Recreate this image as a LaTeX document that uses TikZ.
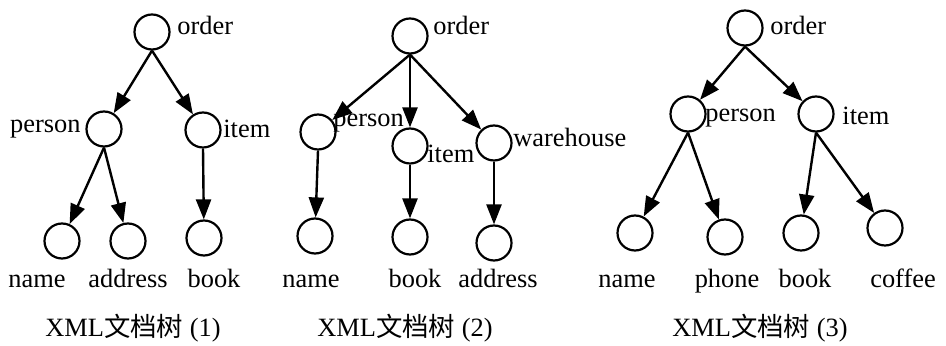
\documentclass[tikz,border=0pt]{standalone}
\usepackage{fontspec}
\setmainfont{Liberation Serif}
\newfontfamily\cjk{Noto Sans CJK SC}
\usetikzlibrary{arrows.meta}
\tikzset{
  elem/.style={circle, draw, line width=1.1pt, minimum size=17.5pt, inner sep=0pt},
  tag/.style={inner sep=0pt, font=\fontsize{13.2}{16}\selectfont},
  edge/.style={line width=1.2pt, -{Triangle[length=10pt,width=7.5pt]}},
}
\begin{document}
\begin{tikzpicture}[x=0.5pt, y=-0.5pt]
\useasboundingbox (0,0) rectangle (946,346);
% tree 1
\node[elem] (o1) at (152,32) {};
\node[elem] (p1) at (104,129) {};
\node[elem] (i1) at (203,130) {};
\node[elem] (n1) at (62,241) {};
\node[elem] (a1) at (128,241) {};
\node[elem] (b1) at (204,238) {};
\node[tag, anchor=base west] (o1t) at (177,35) {order};
\node[tag, anchor=base east] (p1t) at (81,133) {person};
\node[tag, anchor=base west] (i1t) at (223,138) {item};
\node[tag, anchor=base] (n1t) at (37,288) {name};
\node[tag, anchor=base] (a1t) at (128,288) {address};
\node[tag, anchor=base] (b1t) at (214,288) {book};
\node[tag, anchor=base] (c1) at (133,337) {XML{\cjk 文档树} (1)};
% tree 2
\node[elem] (o2) at (410,36) {};
\node[elem] (p2) at (318,132) {};
\node[elem] (i2) at (410,146) {};
\node[elem] (w2) at (494,143) {};
\node[elem] (n2) at (315,236) {};
\node[elem] (b2) at (410,237) {};
\node[elem] (a2) at (494,243) {};
\node[tag, anchor=base west] (o2t) at (433,35) {order};
\node[tag, anchor=base west] (p2t) at (333,127) {person};
\node[tag, anchor=base west] (i2t) at (427,163) {item};
\node[tag, anchor=base west] (w2t) at (513,147) {warehouse};
\node[tag, anchor=base] (n2t) at (311,288) {name};
\node[tag, anchor=base] (b2t) at (415,288) {book};
\node[tag, anchor=base] (a2t) at (498,288) {address};
\node[tag, anchor=base] (c2) at (405,337) {XML{\cjk 文档树} (2)};
% tree 3
\node[elem] (o3) at (745,28) {};
\node[elem] (p3) at (688,114) {};
\node[elem] (i3) at (816,114) {};
\node[elem] (n3) at (635,233) {};
\node[elem] (h3) at (725,237) {};
\node[elem] (b3) at (801,233) {};
\node[elem] (f3) at (885,228) {};
\node[tag, anchor=base west] (o3t) at (770,35) {order};
\node[tag, anchor=base west] (p3t) at (705,122) {person};
\node[tag, anchor=base west] (i3t) at (842,125) {item};
\node[tag, anchor=base] (n3t) at (627,288) {name};
\node[tag, anchor=base] (h3t) at (727,288) {phone};
\node[tag, anchor=base] (b3t) at (805,288) {book};
\node[tag, anchor=base] (f3t) at (903,288) {coffee};
\node[tag, anchor=base] (c3) at (760,337) {XML{\cjk 文档树} (3)};
% edges
\foreach \a/\b in {o1/p1, o1/i1, p1/n1, p1/a1, i1/b1,
                   o2/p2, o2/i2, o2/w2, p2/n2, i2/b2, w2/a2,
                   o3/p3, o3/i3, p3/n3, p3/h3, i3/b3, i3/f3}
  \draw[edge] (\a.south) -- (\b);
\end{tikzpicture}
\end{document}
